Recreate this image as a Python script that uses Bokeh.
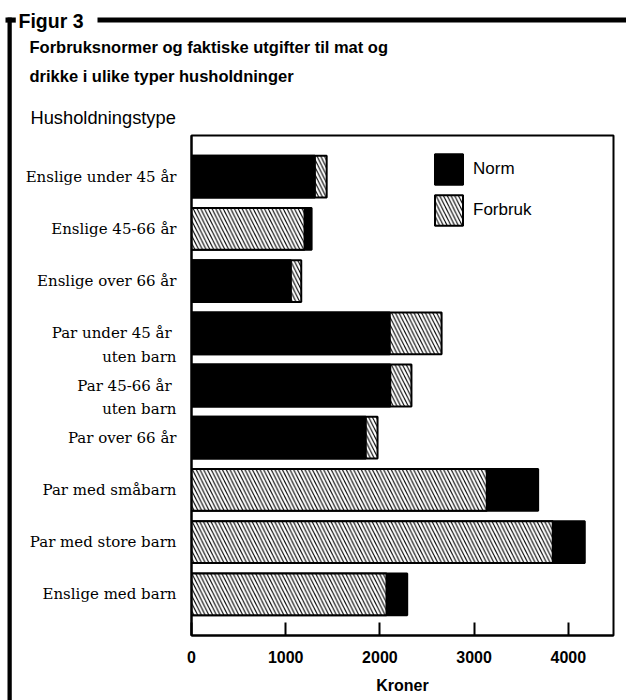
from bokeh.plotting import figure
from bokeh.models import (ColumnDataSource, FactorRange, Range1d, FixedTicker, Label,
                          Legend, LegendItem)
from bokeh.embed import file_html
from bokeh.resources import INLINE

# ---- data ----
categories = [
    "Enslige under 45 år",
    "Enslige 45-66 år",
    "Enslige over 66 år",
    "\nPar under 45 år \nuten barn",
    "\nPar 45-66 år \nuten barn",
    "Par over 66 år",
    "Par med småbarn",
    "Par med store barn",
    "Enslige med barn",
]
norm = [1310, 1275, 1055, 2105, 2110, 1850, 3680, 4175, 2290]
forbruk = [1435, 1200, 1165, 2655, 2335, 1975, 3135, 3835, 2070]
x_ticks = [0, 1000, 2000, 3000, 4000]

SANS = "Liberation Sans"
SERIF = "DejaVu Serif"
HATCH = "\\"

back_val, back_fill, back_hatch = [], [], []
front_val, front_fill, front_hatch = [], [], []
for n, f in zip(norm, forbruk):
    if n >= f:
        back_val.append(n); back_fill.append("black"); back_hatch.append(" ")
        front_val.append(f); front_fill.append("white"); front_hatch.append(HATCH)
    else:
        back_val.append(f); back_fill.append("white"); back_hatch.append(HATCH)
        front_val.append(n); front_fill.append("black"); front_hatch.append(" ")

src_back = ColumnDataSource(dict(y=categories, v=back_val, c=back_fill, h=back_hatch))
src_front = ColumnDataSource(dict(y=categories, v=front_val, c=front_fill, h=front_hatch))

p = figure(
    frame_width=422, frame_height=500,
    y_range=FactorRange(factors=categories[::-1], range_padding=0.29,
                        range_padding_units="absolute"),
    x_range=Range1d(0, 4480),
    output_backend="svg", toolbar_location=None,
    min_border_left=191, min_border_top=135, min_border_right=13, min_border_bottom=65,
)
p.outline_line_color = "black"
p.outline_line_width = 2
p.grid.visible = False

common = dict(y="y", right="v", left=0, height=0.8, fill_color="c", hatch_pattern="h",
              hatch_color="black", hatch_scale=7.5, hatch_weight=1.1,
              line_color="black", line_width=2)
r_back = p.hbar(source=src_back, **common)
r_front = p.hbar(source=src_front, **common)

i_norm = front_fill.index("black")
i_forb = front_fill.index("white")
legend = Legend(items=[
    LegendItem(label="Norm", renderers=[r_front], index=i_norm),
    LegendItem(label="Forbruk", renderers=[r_front], index=i_forb),
], location=(240, 406), orientation="vertical", border_line_color=None,
    background_fill_alpha=0, padding=0, margin=0, spacing=3,
    glyph_width=35, glyph_height=38, label_standoff=7,
    label_text_font=SANS, label_text_font_size="17px", label_text_color="black")
p.add_layout(legend)

xa = p.xaxis[0]
xa.ticker = FixedTicker(ticks=x_ticks)
xa.axis_label = "Kroner"
xa.axis_label_text_font = SANS
xa.axis_label_text_font_style = "bold"
xa.axis_label_text_font_size = "16px"
xa.axis_label_text_color = "black"
xa.axis_label_standoff = 11
xa.major_label_text_font = SANS
xa.major_label_text_font_style = "bold"
xa.major_label_text_font_size = "16px"
xa.major_label_text_color = "black"
xa.major_label_standoff = 15
xa.major_tick_in = 13
xa.major_tick_out = 0
xa.major_tick_line_width = 2
xa.major_tick_line_color = "black"
xa.minor_tick_line_color = None
xa.axis_line_width = 2
xa.axis_line_color = "black"

ya = p.yaxis[0]
ya.major_label_text_font = SERIF
ya.major_label_text_font_size = "15px"
ya.major_label_text_color = "black"
ya.major_label_text_line_height = 1.3
ya.major_label_standoff = 15
ya.major_tick_in = 0
ya.major_tick_out = 0
ya.axis_line_width = 2
ya.axis_line_color = "black"

# texts above the plot (added to a side panel so they are not clipped)
texts = [
    ("Figur 3", 18, 20, "19.5px", "bold"),
    ("Forbruksnormer og faktiske utgifter til mat og", 29, 46, "16.5px", "bold"),
    ("drikke i ulike typer husholdninger", 29, 75, "16.5px", "bold"),
    ("Husholdningstype", 30, 117, "18.3px", "normal"),
]
for t, x, y, fs, st in texts:
    p.add_layout(Label(x=x, y=y, x_units="canvas", y_units="canvas", text=t,
                       text_font=SANS, text_font_style=st, text_font_size=fs,
                       text_baseline="middle", text_align="left", text_color="black"),
                 "above")

# frame lines of the printed figure box
def rule(x, y, w, h, side):
    p.add_layout(Label(x=x, y=y, x_units="canvas", y_units="canvas", text=" ",
                       text_font_size="1px", text_align="left", text_baseline="top",
                       background_fill_color="black", background_fill_alpha=1,
                       padding=dict(left=0, top=0, right=w, bottom=h)), side)

rule(7, 17, 4, 683, "left")
rule(5, 17, 10, 4, "above")
rule(97, 17, 529, 4, "above")

open("out.html", "w").write(file_html(p, INLINE))
